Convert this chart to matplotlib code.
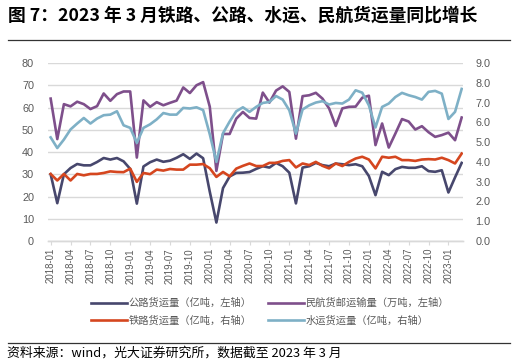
import matplotlib
matplotlib.use("Agg")
import matplotlib.pyplot as plt
from matplotlib.lines import Line2D
import numpy as np

plt.rcParams['font.family'] = ['Noto Sans CJK SC', 'DejaVu Sans']

# ---- data ----
months = [f"{y}-{m:02d}" for y in range(2018, 2024) for m in range(1, 13)][:63]

road = [30.0, 17.0, 30.0, 32.8, 34.6, 34.0, 34.0, 35.5, 37.3, 36.6, 37.3, 35.8,
        32.4, 16.8, 33.5, 35.4, 36.6, 35.6, 36.1, 37.4, 39.0, 36.9, 39.3, 37.2,
        22.2, 8.3, 23.8, 29.0, 30.6, 30.7, 31.0, 32.4, 33.6, 33.0, 35.1, 33.6,
        30.7, 16.9, 33.0, 33.6, 35.1, 34.1, 33.6, 34.8, 34.5, 34.1, 34.5, 33.6,
        29.2, 20.6, 31.1, 29.6, 32.3, 33.3, 32.9, 32.9, 33.6, 31.4, 31.1, 31.8,
        21.8, 28.6, 35.1]

air = [64.0, 45.8, 61.5, 60.5, 62.6, 61.5, 59.3, 60.6, 66.3, 63.0, 66.0, 67.2,
       67.2, 37.5, 63.2, 60.3, 62.4, 61.0, 62.1, 63.1, 69.0, 66.5, 70.0, 71.4,
       60.4, 31.5, 48.1, 48.1, 55.0, 58.0, 55.3, 55.0, 66.7, 62.2, 67.6, 69.5,
       67.0, 46.0, 65.1, 65.5, 66.6, 64.0, 59.6, 51.7, 59.6, 60.3, 60.4, 64.4,
       65.3, 43.1, 52.8, 42.0, 48.3, 54.8, 53.7, 50.1, 51.6, 48.9, 46.8, 47.6,
       48.7, 45.3, 55.5]

rail = [3.39, 3.06, 3.39, 3.06, 3.39, 3.32, 3.39, 3.39, 3.44, 3.52, 3.49, 3.48,
        3.66, 2.99, 3.44, 3.38, 3.61, 3.56, 3.64, 3.61, 3.61, 3.86, 3.86, 3.89,
        3.68, 3.24, 3.49, 3.27, 3.66, 3.80, 3.92, 3.79, 3.79, 3.95, 3.95, 4.05,
        4.09, 3.72, 3.92, 3.84, 4.00, 3.80, 3.67, 3.92, 3.79, 4.00, 4.17, 4.26,
        4.12, 3.67, 4.26, 4.21, 4.26, 4.09, 4.09, 4.05, 4.12, 4.14, 4.12, 4.21,
        4.09, 3.92, 4.42]

water = [5.24, 4.70, 5.13, 5.64, 5.94, 6.22, 5.94, 6.19, 6.36, 6.39, 6.56, 5.85,
         5.72, 4.96, 5.72, 5.90, 6.15, 6.47, 6.39, 6.39, 6.73, 6.70, 6.76, 6.62,
         5.40, 4.00, 5.45, 6.04, 6.56, 6.76, 6.53, 6.78, 6.98, 7.03, 7.33, 7.15,
         6.61, 5.43, 6.65, 6.86, 7.00, 7.07, 6.90, 6.98, 6.95, 7.15, 7.62, 7.50,
         6.86, 5.74, 6.78, 6.95, 7.28, 7.49, 7.37, 7.28, 7.15, 7.54, 7.59, 7.45,
         6.17, 6.53, 7.69]

labels = ["公路货运量（亿吨，左轴）", "铁路货运量（亿吨，右轴）",
          "民航货邮运输量（万吨，左轴）", "水运货运量（亿吨，右轴）"]
left_ticks = [0, 10, 20, 30, 40, 50, 60, 70, 80]
right_ticks = [0.0, 1.0, 2.0, 3.0, 4.0, 5.0, 6.0, 7.0, 8.0, 9.0]

# ---- style ----
C_ROAD = "#47476d"
C_AIR = "#7e4f8b"
C_RAIL = "#d5461f"
C_WATER = "#7eb0c6"
GRAY = "#595959"
GRID = "#d9d9d9"
TICKFONT = ['Liberation Sans', 'DejaVu Sans']

W, H = 516, 363
fig = plt.figure(figsize=(W / 100, H / 100), dpi=100)

L, R, T, B = 48, 463, 63, 241
ax = fig.add_axes([L / W, 1 - B / H, (R - L) / W, (B - T) / H])
ax2 = ax.twinx()

x = np.arange(len(months))
lw = 1.9
l_road, = ax.plot(x, road, color=C_ROAD, lw=lw, zorder=3)
l_air, = ax.plot(x, air, color=C_AIR, lw=lw, zorder=3)
l_rail, = ax2.plot(x, rail, color=C_RAIL, lw=lw, zorder=3)
l_water, = ax2.plot(x, water, color=C_WATER, lw=lw, zorder=3)

ax.set_xlim(-0.4, 62.2)
ax.set_ylim(0, 80)
ax2.set_ylim(0, 9)
ax.set_yticks(left_ticks)
ax.set_yticklabels([str(v) for v in left_ticks], family=TICKFONT)
ax2.set_yticks(right_ticks)
ax2.set_yticklabels([f"{v:.1f}" for v in right_ticks], family=TICKFONT)
ax.grid(axis='y', color=GRID, lw=1.0)
ax.set_axisbelow(True)

ax.set_xticks(x[::3])
ax.set_xticklabels(months[::3], rotation=90, fontsize=6.9, color=GRAY, family=TICKFONT)
ax.tick_params(axis='x', length=3, color=GRID, pad=2)
ax.tick_params(axis='y', length=0, labelsize=7.8, labelcolor=GRAY, pad=10)
ax2.tick_params(axis='y', length=0, labelsize=7.8, labelcolor=GRAY, pad=9)

for a in (ax, ax2):
    for s in ['top', 'left', 'right']:
        a.spines[s].set_visible(False)
    a.spines['bottom'].set_color(GRID)
    a.spines['bottom'].set_linewidth(1.0)

# legend
handles = [l_road, l_rail, l_air, l_water]
fig.legend(handles, labels, ncol=2, loc='center left',
           bbox_to_anchor=(86 / W, 1 - 312 / H), frameon=False,
           fontsize=7.4, labelcolor=GRAY, handlelength=3.5, handletextpad=0.15,
           columnspacing=1.6, labelspacing=0.75, borderpad=0)

# title & source
fig.text(8 / W, 1 - 16 / H, "图 7：2023 年 3 月铁路、公路、水运、民航货运量同比增长",
         fontsize=12.8, fontweight='bold', ha='left', va='center', color='black')
fig.add_artist(Line2D([8 / W, 510 / W], [1 - 40 / H, 1 - 40 / H],
                      transform=fig.transFigure, color='#333333', lw=0.9))
fig.add_artist(Line2D([8 / W, 510 / W], [1 - 343 / H, 1 - 343 / H],
                      transform=fig.transFigure, color='#333333', lw=0.9))
fig.text(7 / W, 1 - 353 / H, "资料来源：wind，光大证券研究所，数据截至 2023 年 3 月",
         fontsize=9.3, ha='left', va='center', color='black')

fig.savefig("out.png", dpi=100)
